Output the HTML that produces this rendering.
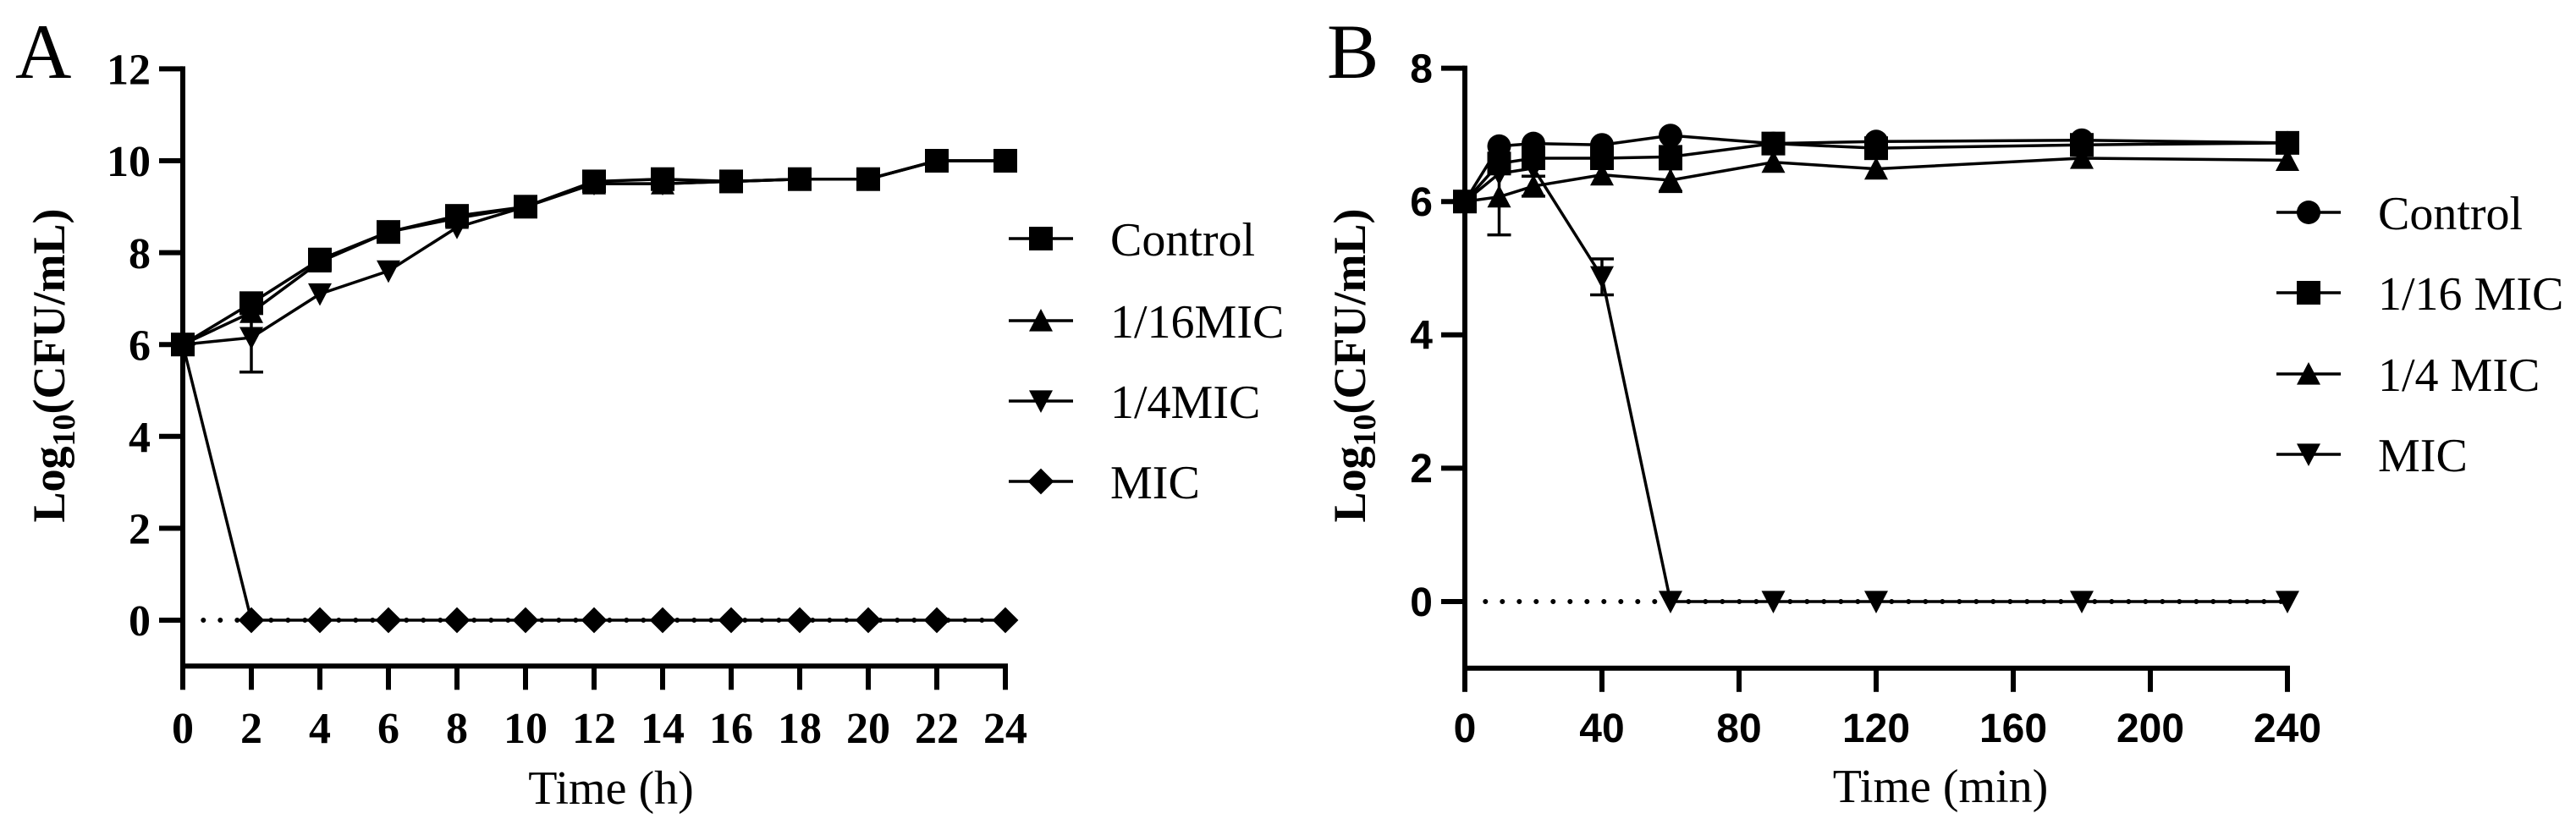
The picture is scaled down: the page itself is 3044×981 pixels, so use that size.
<!DOCTYPE html>
<html><head><meta charset="utf-8">
<style>
html,body{margin:0;padding:0;background:#fff;}
svg{display:block;}
text{fill:#000;}
.ser{font-family:"Liberation Serif",serif;}
.san{font-family:"Liberation Sans",sans-serif;}
</style></head>
<body>
<svg id="fig" width="3044" height="981" viewBox="0 0 3044 981" xmlns="http://www.w3.org/2000/svg">
<g id="pa"></g>
<g id="pb"></g>
</svg>
<script>
// ---------- Panel A data ----------
const aTimes = [0,2,4,6,8,10,12,14,16,18,20,22,24];
const aControl = [6,6.9,7.85,8.45,8.8,9.0,9.55,9.6,9.55,9.6,9.6,10,10];
const a16MIC = [6,6.7,7.8,8.45,8.75,9.0,9.5,9.5,9.55,9.6,9.6,10,10];
const a4MIC = [6,6.15,7.1,7.6,8.55,9.0,9.5,9.5,9.55,9.6,9.6,10,10];
const a4MICErr = [0,0.75,0,0,0,0,0,0,0,0,0,0,0];
const aMIC = [6,0,0,0,0,0,0,0,0,0,0,0,0];
const aXTicks = [0,2,4,6,8,10,12,14,16,18,20,22,24];
const aYTicks = [0,2,4,6,8,10,12];
const aLegend = ["Control","1/16MIC","1/4MIC","MIC"];

// ---------- Panel B data ----------
const bTimes = [0,10,20,40,60,90,120,180,240];
const bControl = [6,6.83,6.87,6.85,6.99,6.87,6.9,6.92,6.88];
const b16MIC = [6,6.57,6.65,6.65,6.67,6.87,6.8,6.85,6.88];
const b4MIC = [6,6.07,6.23,6.4,6.32,6.59,6.49,6.65,6.62];
const b4MICErr = [0,0.57,0.15,0,0.17,0,0,0,0];
const bMIC = [6,6.42,6.5,4.87,0,0,0,0,0];
const bMICErr = [0,0,0,0.27,0,0,0,0,0];
const bXTicks = [0,40,80,120,160,200,240];
const bYTicks = [0,2,4,6,8];
const bLegend = ["Control","1/16 MIC","1/4 MIC","MIC"];

const NS = "http://www.w3.org/2000/svg";
function mk(parent, tag, attrs){
  const e = document.createElementNS(NS, tag);
  for (const k in attrs) e.setAttribute(k, attrs[k]);
  parent.appendChild(e);
  return e;
}
function marker(g, type, cx, cy, s){
  let e;
  if (type === 'square') e = mk(g,'rect',{x:cx-s/2,y:cy-s/2,width:s,height:s,fill:'#000'});
  else if (type === 'circle') e = mk(g,'circle',{cx:cx,cy:cy,r:s/2,fill:'#000'});
  else if (type === 'up') e = mk(g,'polygon',{points:`${cx-s/2},${cy+s*0.45} ${cx+s/2},${cy+s*0.45} ${cx},${cy-s*0.5}`,fill:'#000'});
  else if (type === 'down') e = mk(g,'polygon',{points:`${cx-s/2},${cy-s*0.45} ${cx+s/2},${cy-s*0.45} ${cx},${cy+s*0.5}`,fill:'#000'});
  else e = mk(g,'polygon',{points:`${cx},${cy-s*0.55} ${cx+s*0.55},${cy} ${cx},${cy+s*0.55} ${cx-s*0.55},${cy}`,fill:'#000'});
  return e;
}

function drawPanel(cfg){
  const g = document.getElementById(cfg.id);
  const X = v => cfg.x0 + (v - cfg.xmin) / (cfg.xmax - cfg.xmin) * (cfg.x1 - cfg.x0);
  const Y = v => cfg.y0 - v * cfg.yUnit;
  const axisY = Y(cfg.ymin);
  const topY = Y(cfg.ymax);
  // axes
  const ax = mk(g,'path',{d:`M${cfg.x0},${topY} V${axisY} H${X(cfg.xmax)}`,stroke:'#000','stroke-width':6,fill:'none','stroke-linecap':'square'});
  
  
  cfg.yTicks.forEach(t=>{
    const y = Y(t);
    const tk = mk(g,'line',{x1:cfg.x0-28,x2:cfg.x0,y1:y,y2:y,stroke:'#000','stroke-width':6});
    
    
    const tl = mk(g,'text',{x:cfg.x0-38,y:y+cfg.tickFont*0.35,'text-anchor':'end','font-size':cfg.tickFont,'font-weight':'bold',class:cfg.tickClass});
    tl.textContent = t;
    
    
  });
  cfg.xTicks.forEach(t=>{
    const x = X(t);
    const tk = mk(g,'line',{x1:x,x2:x,y1:axisY,y2:axisY+28,stroke:'#000','stroke-width':6});
    
    
    const tl = mk(g,'text',{x:x,y:860+cfg.tickFont*0.35,'text-anchor':'middle','font-size':cfg.tickFont,'font-weight':'bold',class:cfg.tickClass});
    tl.textContent = t;
    
    
  });
  // dotted zero line
  const dz = mk(g,'line',{x1:X(cfg.dotStart),x2:X(cfg.xmax),y1:Y(0),y2:Y(0),stroke:'#000','stroke-width':6,'stroke-dasharray':'0 20','stroke-linecap':'round'});
  
  
  // series
  cfg.series.forEach(s=>{
    const sg = mk(g,'g',{});
    
    
    const d = s.vals.map((v,i)=>(i?'L':'M')+X(cfg.times[i])+','+Y(v)).join(' ');
    const ln = mk(sg,'path',{d:d,stroke:'#000','stroke-width':3.5,fill:'none'});
    
    
    if (s.err) s.err.forEach((e,i)=>{
      if (!e) return;
      const x = X(cfg.times[i]), yt = Y(s.vals[i]+e), yb = Y(s.vals[i]-e);
      const eb = mk(sg,'path',{d:`M${x},${yt} V${yb} M${x-14},${yt} H${x+14} M${x-14},${yb} H${x+14}`,stroke:'#000','stroke-width':3.5,fill:'none'});
      
      
    });
    s.vals.forEach((v,i)=>{
      const m = marker(sg, s.type, X(cfg.times[i]), Y(v), cfg.ms);
      
      
    });
  });
  // legend
  cfg.legend.forEach((lab,i)=>{
    const y = cfg.legY[i];
    const lg = mk(g,'g',{});
    
    
    mk(lg,'line',{x1:cfg.legX,x2:cfg.legX+76,y1:y,y2:y,stroke:'#000','stroke-width':3.5});
    marker(lg, cfg.series[i].type, cfg.legX+38, y, cfg.ms);
    const t = mk(lg,'text',{x:cfg.legX+120,y:y+20,'font-size':56,class:'ser'});
    t.textContent = lab;
  });
}

drawPanel({id:'pa',x0:216,x1:1188,xmin:0,xmax:24,y0:733,yUnit:54.3,ymin:-1,ymax:12,
  times:aTimes,xTicks:aXTicks,yTicks:aYTicks,tickFont:52,tickClass:'ser',ms:28,dotStart:0.6,
  series:[{key:'control',vals:aControl,type:'square'},{key:'1-16mic',vals:a16MIC,type:'up'},
          {key:'1-4mic',vals:a4MIC,type:'down',err:a4MICErr},{key:'mic',vals:aMIC,type:'diamond'}],
  legend:aLegend,legX:1192,legY:[282,379,474,569]});
drawPanel({id:'pb',x0:1731,x1:2703,xmin:0,xmax:240,y0:711,yUnit:78.8,ymin:-1,ymax:8,
  times:bTimes,xTicks:bXTicks,yTicks:bYTicks,tickFont:48,tickClass:'san',ms:28,dotStart:6,
  series:[{key:'control',vals:bControl,type:'circle'},{key:'1-16mic',vals:b16MIC,type:'square'},
          {key:'1-4mic',vals:b4MIC,type:'up',err:b4MICErr},{key:'mic',vals:bMIC,type:'down',err:bMICErr}],
  legend:bLegend,legX:2690,legY:[251,346,442,537]});
</script>
<svg width="0" height="0" style="position:absolute"></svg>
<div style="position:absolute;left:0;top:0;width:3044px;height:981px;pointer-events:none;">
<svg width="3044" height="981" viewBox="0 0 3044 981" xmlns="http://www.w3.org/2000/svg">
  <text class="ser" x="18" y="92" font-size="92">A</text>
  <text class="ser" x="1568" y="92" font-size="92">B</text>
  <text class="ser" font-size="54" font-weight="bold" text-anchor="middle" transform="translate(76,432) rotate(-90)">Log<tspan font-size="38" dy="12">10</tspan><tspan dy="-12">(CFU/mL)</tspan></text>
  <text class="ser" font-size="54" font-weight="bold" text-anchor="middle" transform="translate(1613,432) rotate(-90)">Log<tspan font-size="38" dy="12">10</tspan><tspan dy="-12">(CFU/mL)</tspan></text>
  <text class="ser" x="722" y="950" font-size="56" text-anchor="middle">Time (h)</text>
  <text class="ser" x="2293" y="948" font-size="56" text-anchor="middle">Time (min)</text>
</svg>
</div>
</body></html>
